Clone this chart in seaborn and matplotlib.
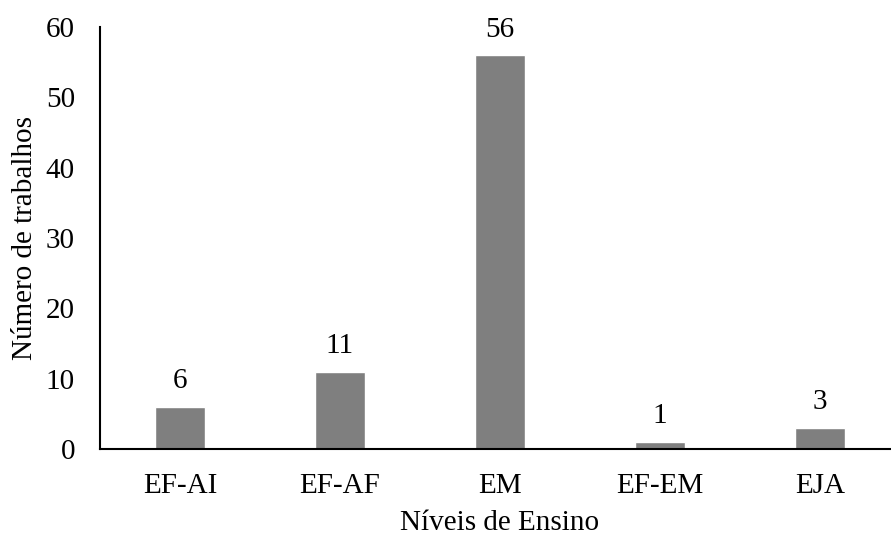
import matplotlib
matplotlib.use("Agg")
import matplotlib.pyplot as plt
import pandas as pd
import seaborn as sns

# values
niveis = ["EF-AI", "EF-AF", "EM", "EF-EM", "EJA"]
trabalhos = [6, 11, 56, 1, 3]

df = pd.DataFrame({"nivel": niveis, "n": trabalhos})

sns.set_style("white")
plt.rcParams["font.family"] = ["Liberation Serif", "DejaVu Serif"]
plt.rcParams["font.size"] = 21
plt.rcParams["text.color"] = "black"
plt.rcParams["axes.labelcolor"] = "black"
plt.rcParams["xtick.color"] = "black"
plt.rcParams["ytick.color"] = "black"

fig = plt.figure(figsize=(8.91, 5.36), dpi=100)
ax = fig.add_axes([0.1122, 0.1623, 0.8979, 0.7873])

sns.barplot(data=df, x="nivel", y="n", color="#7f7f7f", saturation=1,
            width=0.31, ax=ax)
ax.bar_label(ax.containers[0], padding=9, fontsize=21, color="black")

ax.set_ylim(0, 60)
ax.set_yticks([0, 10, 20, 30, 40, 50, 60])
ax.set_xlim(-0.5, 4.5)
ax.tick_params(axis="both", length=0, labelsize=21)
ax.tick_params(axis="x", pad=17)
ax.tick_params(axis="y", pad=18)
ax.set_xlabel("Níveis de Ensino", fontsize=21, labelpad=8)
ax.set_ylabel("Número de trabalhos", fontsize=21, labelpad=6)

for s in ["top", "right"]:
    ax.spines[s].set_visible(False)
for s in ["left", "bottom"]:
    ax.spines[s].set_color("black")
    ax.spines[s].set_linewidth(1.5)

plt.savefig("out.png", dpi=100)
plt.close()
